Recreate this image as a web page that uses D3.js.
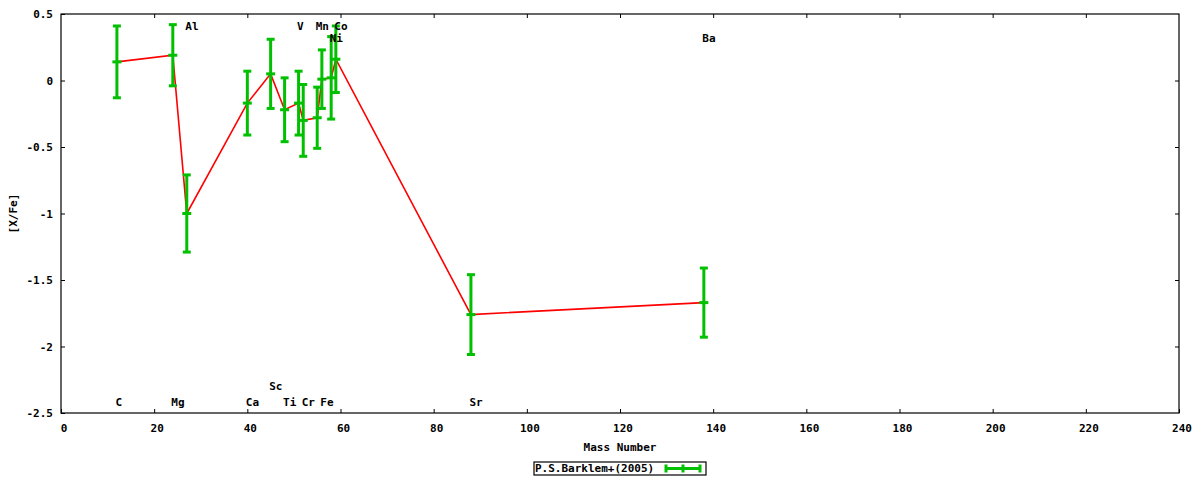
<!DOCTYPE html>
<html>
<head>
<meta charset="utf-8">
<script src="https://cdn.jsdelivr.net/npm/d3@7/dist/d3.min.js"></script>
<style>
  html, body { margin: 0; padding: 0; background: #fff; }
  svg text { font-family: "DejaVu Sans Mono", "Liberation Mono", monospace; font-weight: bold; font-size: 11px; fill: #000; }
</style>
</head>
<body>
<svg id="chart" width="1200" height="480"></svg>
<script>
// ---- data ----
const elements = ["C","Mg","Al","Ca","Sc","Ti","V","Cr","Mn","Fe","Ni","Co","Sr","Ba"];
const massNumber = [12,24,27,40,45,48,51,52,55,56,58,59,88,138];
const xFe = [0.14,0.19,-1.00,-0.17,0.05,-0.22,-0.17,-0.30,-0.28,0.01,0.02,0.16,-1.76,-1.67];
const xFeErr = [0.27,0.23,0.29,0.24,0.26,0.24,0.24,0.27,0.23,0.22,0.31,0.25,0.30,0.26];
const labelY = [-2.42,-2.42,0.41,-2.42,-2.30,-2.42,0.41,-2.42,0.41,-2.42,0.32,0.41,-2.42,0.32];
const xTicks = [0,20,40,60,80,100,120,140,160,180,200,220,240];
const yTicks = [0.5,0,-0.5,-1,-1.5,-2,-2.5];
const seriesName = "P.S.Barklem+(2005)";
const xTitle = "Mass Number";
const yTitle = "[X/Fe]";

// ---- drawing ----
(function () {
const svg = d3.select("#chart");
const pL = 61, pR = 1179, pT = 14, pB = 413;
const x = d3.scaleLinear().domain([0,240]).range([pL,pR]);
const y = d3.scaleLinear().domain([-2.5,0.5]).range([pB,pT]);
const green = "#00c000", red = "#ff0000";

svg.append("rect").attr("width",1200).attr("height",480).attr("fill","#fff");

// axes (ticks inward, mirrored)
const tickLen = 4;
const gx = svg.append("g").attr("transform",`translate(0,${pB})`)
  .call(d3.axisBottom(x).tickValues(xTicks).tickSize(-tickLen).tickPadding(10).tickFormat(d3.format("d")));
const gxt = svg.append("g").attr("transform",`translate(0,${pT})`)
  .call(d3.axisTop(x).tickValues(xTicks.slice(1,-1)).tickSize(-tickLen).tickFormat(""));
const gy = svg.append("g").attr("transform",`translate(${pL},0)`)
  .call(d3.axisLeft(y).tickValues(yTicks).tickSize(-tickLen).tickPadding(8).tickFormat(d => String(d)));
const gyr = svg.append("g").attr("transform",`translate(${pR},0)`)
  .call(d3.axisRight(y).tickValues(yTicks.slice(1,-1)).tickSize(-tickLen).tickFormat(""));
[gx,gxt,gy,gyr].forEach(g => {
  g.select(".domain").remove();
  g.selectAll("line").attr("stroke","#000");
  g.selectAll("text").attr("font-family",null).attr("font-size",null).attr("fill","#000");
});
gx.selectAll(".tick text").attr("dy","0.35em").attr("y",15).attr("x",2.5);

// border
svg.append("rect").attr("x",pL).attr("y",pT).attr("width",pR-pL).attr("height",pB-pT)
  .attr("fill","none").attr("stroke","#000").attr("stroke-width",1.2);

// axis titles
svg.append("text").attr("x",(pL+pR)/2).attr("y",447).attr("dy","0.35em")
  .attr("text-anchor","middle").text(xTitle);
svg.append("text").attr("transform",`translate(13,${(pT+pB)/2}) rotate(-90)`)
  .attr("dy","0.35em").attr("text-anchor","middle").text(yTitle);

const idx = d3.range(elements.length);

// red connecting line
svg.append("path")
  .attr("d", d3.line().x(i => x(massNumber[i])).y(i => y(xFe[i]))(idx))
  .attr("fill","none").attr("stroke",red).attr("stroke-width",1.6);

// error bars
const capW = 8, midW = 9;
const eb = svg.append("g").attr("stroke",green).attr("stroke-width",3);
idx.forEach(i => {
  const cx = x(massNumber[i]);
  const y1 = y(xFe[i]+xFeErr[i]), y2 = y(xFe[i]-xFeErr[i]), yc = y(xFe[i]);
  eb.append("line").attr("x1",cx).attr("x2",cx).attr("y1",y1).attr("y2",y2);
  eb.append("line").attr("x1",cx-capW/2).attr("x2",cx+capW/2).attr("y1",y1).attr("y2",y1);
  eb.append("line").attr("x1",cx-capW/2).attr("x2",cx+capW/2).attr("y1",y2).attr("y2",y2);
  eb.append("line").attr("x1",cx-midW/2).attr("x2",cx+midW/2).attr("y1",yc).attr("y2",yc);
});

// element labels
svg.append("g").selectAll("text").data(idx).join("text")
  .attr("x", i => x(massNumber[i]) - 1.5)
  .attr("y", i => y(labelY[i]))
  .attr("dy","0.35em")
  .text(i => elements[i]);

// legend
const lg = svg.append("g");
lg.append("rect").attr("x",534).attr("y",462).attr("width",172).attr("height",13)
  .attr("fill","#fff").attr("stroke","#000").attr("stroke-width",1.2);
lg.append("text").attr("x",535).attr("y",468.5).attr("dy","0.35em").text(seriesName);
const ly = 468.5, lx1 = 666, lx2 = 700;
const lgl = lg.append("g").attr("stroke",green).attr("stroke-width",3);
lgl.append("line").attr("x1",lx1).attr("x2",lx2).attr("y1",ly).attr("y2",ly);
lgl.append("line").attr("x1",lx1).attr("x2",lx1).attr("y1",ly-4).attr("y2",ly+4);
lgl.append("line").attr("x1",lx2).attr("x2",lx2).attr("y1",ly-4).attr("y2",ly+4);
lgl.append("line").attr("x1",(lx1+lx2)/2).attr("x2",(lx1+lx2)/2).attr("y1",ly-4).attr("y2",ly+4);
})();
</script>
</body>
</html>
